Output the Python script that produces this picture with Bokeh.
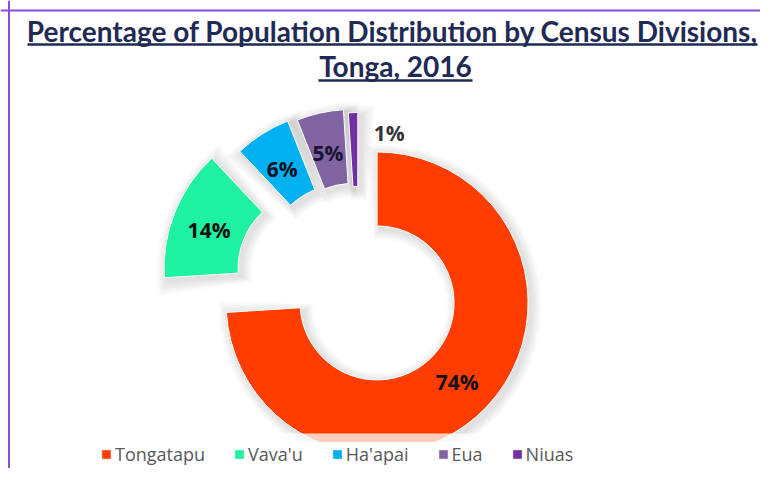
import math
from bokeh.plotting import figure
from bokeh.models import ColumnDataSource, Range1d, Span, BoxAnnotation
from bokeh.core.properties import value
from bokeh.embed import file_html
from bokeh.resources import INLINE

# ---- data ----
categories = ["Tongatapu", "Vava'u", "Ha'apai", "Eua", "Niuas"]
percentages = [74, 14, 6, 5, 1]
label_texts = ["74%", "14%", "6%", "5%", "1%"]
title_line1 = "Percentage of Population Distribution by Census Divisions,"
title_line2 = "Tonga, 2016"

# ---- style ----
colors = ["#FF3D00", "#1EF2A0", "#00B0F0", "#8064A2", "#7030A0"]
label_colors = ["#111111", "#111111", "#111122", "#1a1433", "#333333"]
explode = [25.5, 46.7, 28.5, 25.7, 22.0]
label_radius = [110, 114, 114, 114, 138]
label_shift_deg = [0, 0, 0, 0, 15.0]
CX, CY = 358, 199
R_OUT, R_IN = 151, 77
TITLE_COLOR = "#1F2A55"
BORDER_COLOR = "#8A4FD6"

W, H = 760, 468
p = figure(width=W, height=H, x_range=Range1d(0, 760), y_range=Range1d(16, 484),
           output_backend="svg", toolbar_location=None,
           x_axis_type=None, y_axis_type=None, min_border=0)
p.outline_line_color = None
p.background_fill_color = "white"
p.border_fill_color = "white"

total = float(sum(percentages))
xs, ys, starts, ends, lxs, lys = [], [], [], [], [], []
cum = 0.0
for i, pct in enumerate(percentages):
    t0 = cum / total * 360.0
    t1 = (cum + pct) / total * 360.0
    tm = math.radians((t0 + t1) / 2.0)
    cum += pct
    cx = CX + explode[i] * math.sin(tm)
    cy = CY + explode[i] * math.cos(tm)
    xs.append(cx)
    ys.append(cy)
    starts.append(math.radians(90.0 - t1))
    ends.append(math.radians(90.0 - t0))
    la = tm + math.radians(label_shift_deg[i])
    lxs.append(cx + label_radius[i] * math.sin(la))
    lys.append(cy + label_radius[i] * math.cos(la))

src = ColumnDataSource(dict(x=xs, y=ys, start=starts, end=ends, color=colors,
                            name=categories, lx=lxs, ly=lys, label=label_texts,
                            lcolor=label_colors))

# soft shadow layers
for k in (2, 4, 6, 8, 10):
    da = k / 114.0
    sh = ColumnDataSource(dict(x=[x + 3 for x in xs], y=[y - 3 for y in ys],
                               start=[s - da for s in starts], end=[e + da for e in ends]))
    p.annular_wedge(x="x", y="y", inner_radius=max(R_IN - k, 0), outer_radius=R_OUT + k,
                    start_angle="start", end_angle="end", fill_color="black",
                    fill_alpha=0.022, line_color=None, source=sh)

p.annular_wedge(x="x", y="y", inner_radius=R_IN, outer_radius=R_OUT,
                start_angle="start", end_angle="end", fill_color="color",
                line_color="white", line_width=1, legend_field="name", source=src)

p.text(x="lx", y="ly", text="label", source=src, text_font=value("Open Sans"),
       text_font_style="bold", text_font_size="21px", text_align="center",
       text_baseline="middle", text_color="lcolor", y_offset=4)

# title (two lines, underlined)
p.text(x=[392], y=[454], text=[title_line1], text_font=value("Lato"),
       text_font_style="bold", text_font_size="28px", text_align="center",
       text_baseline="middle", text_color=TITLE_COLOR)
p.text(x=[395], y=[418.5], text=[title_line2], text_font=value("Lato"),
       text_font_style="bold", text_font_size="28px", text_align="center",
       text_baseline="middle", text_color=TITLE_COLOR)
p.segment(x0=[27, 318], y0=[440, 404], x1=[757, 472], y1=[440, 404],
          line_color=TITLE_COLOR, line_width=2.5)

# frame lines
p.add_layout(Span(location=474, dimension="width", line_color=BORDER_COLOR, line_width=2))
p.add_layout(Span(location=8.5, dimension="height", line_color=BORDER_COLOR, line_width=2))

# fade band near the legend
p.add_layout(BoxAnnotation(top=51, bottom=16, fill_color="white", fill_alpha=0.75,
                           line_color=None, level="guide"))

lg = p.legend[0]
lg.location = (100, 2)
lg.orientation = "horizontal"
lg.glyph_width = 12
lg.glyph_height = 12
lg.label_standoff = 3
lg.spacing = 28
lg.padding = 3
lg.margin = 0
lg.label_height = 20
lg.label_text_font = "Open Sans"
lg.label_text_font_size = "18px"
lg.label_text_color = "#595959"
lg.border_line_color = None
lg.background_fill_color = "white"
lg.background_fill_alpha = 1.0

open("out.html", "w").write(file_html(p, INLINE))
